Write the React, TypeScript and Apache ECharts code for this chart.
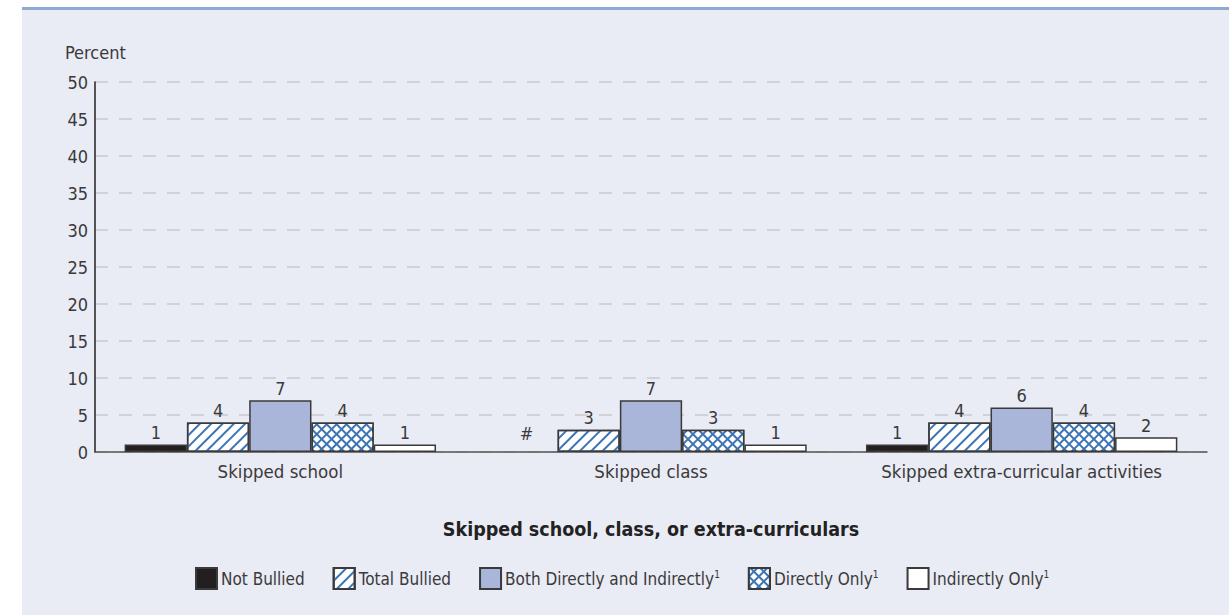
import React, { useEffect, useRef } from "react";
import * as echarts from "echarts";

const categories = ["Skipped school", "Skipped class", "Skipped extra-curricular activities"];
const seriesNames = [
  "Not Bullied",
  "Total Bullied",
  "Both Directly and Indirectly",
  "Directly Only",
  "Indirectly Only",
];
const notBullied = [1, 0, 1];
const totalBullied = [4, 3, 4];
const bothDirectlyIndirectly = [7, 7, 6];
const directlyOnly = [4, 3, 4];
const indirectlyOnly = [1, 1, 2];
const yTicks = { min: 0, max: 50, interval: 5 };
const superscriptSeries = ["Both Directly and Indirectly", "Directly Only", "Indirectly Only"];

const FONT = "'DejaVu Sans Condensed', 'Liberation Sans Narrow', 'Open Sans', sans-serif";
const TEXT = "#3a3a3a";
const BORDER = "#3a3a3a";
const BLUE = "#3c74b4";

export default function App() {
  const ref = useRef<HTMLDivElement>(null);
  useEffect(() => {
    if (!ref.current) return;
    const chart = echarts.init(ref.current, undefined, { renderer: "svg" });
    const toData = (arr: number[]) =>
      arr.map((v) =>
        v === 0 ? { value: v, label: { distance: 10 }, itemStyle: { borderWidth: 0 } } : v
      );
    const label = {
      show: true,
      position: "top" as const,
      distance: 3,
      color: TEXT,
      fontFamily: FONT,
      fontSize: 18,
      formatter: (p: any) => (p.value === 0 ? "#" : String(p.value)),
    };
    const base = (name: string, data: number[], itemStyle: any) => ({
      name,
      type: "bar" as const,
      data: toData(data),
      barGap: "0%",
      barCategoryGap: "16%",
      itemStyle: { borderColor: BORDER, borderWidth: 1.5, ...itemStyle },
      label,
    });
    chart.setOption({
      animation: false,
      backgroundColor: "#ffffff",
      textStyle: { fontFamily: FONT },
      graphic: [
        {
          type: "rect",
          z: -10,
          silent: true,
          shape: { x: 22, y: 8, width: 1229 - 22, height: 615 - 8 },
          style: { fill: "#e9ebf5" },
        },
        {
          type: "rect",
          z: -9,
          silent: true,
          shape: { x: 22, y: 7, width: 1229 - 22, height: 3 },
          style: { fill: "#8eaad2" },
        },
        {
          type: "text",
          left: 65,
          top: 43,
          style: { text: "Percent", fill: TEXT, font: `18px ${FONT}` },
        },
      ],
      grid: { left: 95, right: 22, top: 82, bottom: 163, containLabel: false },
      legend: {
        top: 562,
        left: 190,
        itemWidth: 21,
        itemHeight: 21,
        itemGap: 28,
        icon: "rect",
        data: seriesNames,
        formatter: (n: string) =>
          superscriptSeries.includes(n) ? `{a|${n}}{s|1}` : `{a|${n}}`,
        textStyle: {
          color: TEXT,
          fontFamily: FONT,
          fontSize: 17,
          padding: [0, 0, 0, -1],
          rich: {
            a: { fontFamily: FONT, fontSize: 17, color: TEXT },
            s: { fontFamily: FONT, fontSize: 10, color: TEXT, verticalAlign: "top", padding: [0, 0, 9, 0] },
          },
        },
      },
      xAxis: {
        type: "category",
        data: categories,
        axisLine: { lineStyle: { color: "#555", width: 1.5 } },
        axisTick: { show: false },
        axisLabel: { color: TEXT, fontFamily: FONT, fontSize: 18.5, margin: 10 },
        name: "Skipped school, class, or extra-curriculars",
        nameLocation: "middle",
        nameGap: 67,
        nameTextStyle: { color: "#222", fontFamily: FONT, fontSize: 19.5, fontWeight: "bold" },
      },
      yAxis: {
        type: "value",
        min: yTicks.min,
        max: yTicks.max,
        interval: yTicks.interval,
        axisLine: { show: true, lineStyle: { color: "#222", width: 1.5 } },
        axisTick: { show: false },
        axisLabel: { color: TEXT, fontFamily: FONT, fontSize: 18, margin: 7 },
        splitLine: { lineStyle: { color: "#c9c9cc", width: 1.5, type: [13, 11] } },
      },
      series: [
        base(seriesNames[0], notBullied, { color: "#231f20" }),
        base(seriesNames[1], totalBullied, {
          color: "#ffffff",
          decal: {
            symbol: "rect",
            symbolSize: 1,
            color: BLUE,
            dashArrayX: [1, 0],
            dashArrayY: [2, 6],
            rotation: -Math.PI / 4,
          },
        }),
        base(seriesNames[2], bothDirectlyIndirectly, { color: "#a9b5d9" }),
        base(seriesNames[3], directlyOnly, {
          color: BLUE,
          decal: {
            symbol: "rect",
            symbolSize: 1,
            color: "#ffffff",
            dashArrayX: [5, 2],
            dashArrayY: [5, 2],
            rotation: Math.PI / 4,
          },
        }),
        base(seriesNames[4], indirectlyOnly, { color: "#ffffff" }),
      ],
    });
    return () => chart.dispose();
  }, []);
  return (
    <div
      ref={ref}
      style={{ position: "absolute", left: 0, top: 0, width: 1229, height: 615 }}
    />
  );
}
